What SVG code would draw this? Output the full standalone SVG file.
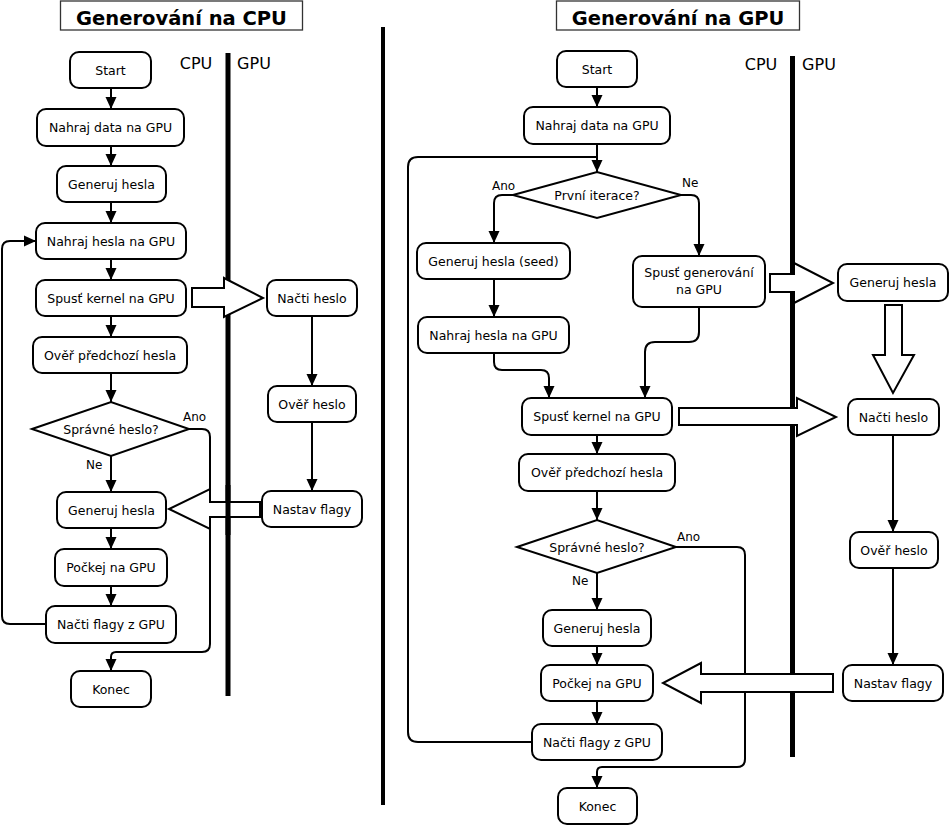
<svg xmlns="http://www.w3.org/2000/svg" width="950" height="826" viewBox="0 0 950 826">
<style>
.n rect,.n polygon{fill:#fff;stroke:#000;stroke-width:2}
.t{font-family:"DejaVu Sans","Liberation Sans",sans-serif;font-size:12.5px;text-anchor:middle;fill:#000}
.lb{font-family:"DejaVu Sans","Liberation Sans",sans-serif;font-size:12px;fill:#000}
.lane{font-family:"DejaVu Sans","Liberation Sans",sans-serif;font-size:16px;fill:#000;text-anchor:middle}
.ttl{font-family:"DejaVu Sans","Liberation Sans",sans-serif;font-size:19.5px;font-weight:bold;text-anchor:middle;fill:#000}
.c path{fill:none;stroke:#000;stroke-width:2}
.big{fill:#fff;stroke:#000;stroke-width:2;stroke-linejoin:miter}
.sep{stroke:#000;stroke-width:5}
</style>
<defs>
<marker id="ah" viewBox="0 0 12 12" refX="12" refY="6" markerWidth="12" markerHeight="12" markerUnits="userSpaceOnUse" orient="auto">
<path d="M0,0.5 L12,6 L0,11.5 z" fill="#000"/>
</marker>
</defs>
<rect width="950" height="826" fill="#fff"/>

<!-- titles -->
<g id="title-cpu"><rect x="60.5" y="1" width="242" height="29" fill="#fff" stroke="#333" stroke-width="1.3"/><text class="ttl" x="181.5" y="25">Generování na CPU</text></g>
<g id="title-gpu"><rect x="556.5" y="1" width="243" height="29" fill="#fff" stroke="#333" stroke-width="1.3"/><text class="ttl" x="678" y="25">Generování na GPU</text></g>

<!-- lane separators -->
<g id="lanes">
<line class="sep" x1="228" y1="53" x2="228" y2="696"/>
<line class="sep" x1="792.5" y1="56" x2="792.5" y2="757"/>
<line x1="383" y1="27" x2="383" y2="805" stroke="#000" stroke-width="4"/>
<text class="lane" x="196" y="69">CPU</text><text class="lane" x="254" y="69">GPU</text>
<text class="lane" x="761" y="70">CPU</text><text class="lane" x="819" y="70">GPU</text>
</g>

<!-- connectors -->
<g id="connectors" class="c">
<path d="M111,88 V109" marker-end="url(#ah)"/>
<path d="M111,146 V166" marker-end="url(#ah)"/>
<path d="M111,202 V223" marker-end="url(#ah)"/>
<path d="M111,259 V280" marker-end="url(#ah)"/>
<path d="M111,316 V337" marker-end="url(#ah)"/>
<path d="M111,373 V402" marker-end="url(#ah)"/>
<path d="M111,456 V492" marker-end="url(#ah)"/>
<path d="M111,528 V549" marker-end="url(#ah)"/>
<path d="M111,586 V606" marker-end="url(#ah)"/>
<path d="M46,624 H10 Q2,624 2,616 V249 Q2,241 10,241 H36" marker-end="url(#ah)"/>
<path d="M189,429 H202 Q210,429 210,437 V644 Q210,652 202,652 H116 Q111,652 111,657 V671" marker-end="url(#ah)"/>
<path d="M312,316 V386" marker-end="url(#ah)"/>
<path d="M312,422 V491" marker-end="url(#ah)"/>

<path d="M597,87 V107" marker-end="url(#ah)"/>
<path d="M597,144 V172" marker-end="url(#ah)"/>
<path d="M532,742 H418 Q408,742 408,732 V167 Q408,157 418,157 H597"/>
<path d="M513,195 H502 Q494,195 494,203 V243" marker-end="url(#ah)"/>
<path d="M681,195 H691 Q699,195 699,203 V256" marker-end="url(#ah)"/>
<path d="M494,279 V317" marker-end="url(#ah)"/>
<path d="M494,353 V362 Q494,370 502,370 H541 Q549,370 549,378 V398" marker-end="url(#ah)"/>
<path d="M699,307 V332 Q699,342 689,342 H655 Q645,342 645,352 V398" marker-end="url(#ah)"/>
<path d="M597,435 V454" marker-end="url(#ah)"/>
<path d="M597,491 V520" marker-end="url(#ah)"/>
<path d="M597,573 V610" marker-end="url(#ah)"/>
<path d="M597,646 V665" marker-end="url(#ah)"/>
<path d="M597,701 V724" marker-end="url(#ah)"/>
<path d="M676,547 H737 Q745,547 745,555 V759 Q745,767 737,767 H602 Q597,767 597,772 V788" marker-end="url(#ah)"/>
<path d="M893,435 V532" marker-end="url(#ah)"/>
<path d="M893,568 V665" marker-end="url(#ah)"/>

<text class="lb" x="183" y="421">Ano</text>
<text class="lb" x="86" y="469">Ne</text>
<text class="lb" x="492" y="190">Ano</text>
<text class="lb" x="682" y="187">Ne</text>
<text class="lb" x="677" y="541">Ano</text>
<text class="lb" x="572" y="585">Ne</text>
</g>

<!-- big hollow arrows -->
<g id="flow-arrows">
<polygon class="big" points="260,502 210,502 210,489 169,509 210,529 210,517 260,517"/>
<line class="sep" x1="228" y1="485" x2="228" y2="535"/>
<polygon class="big" points="192,288 224,288 224,278 263,298 224,317 224,307 192,307"/>
<polygon class="big" points="770,274 794,274 794,263 833,283 794,303 794,292 770,292"/>
<polygon class="big" points="679,408 797,408 797,398 836,417 797,436 797,425 679,425"/>
<polygon class="big" points="885,305 902,305 902,355 914,355 893,393 873,355 885,355"/>
<polygon class="big" points="833,674 701,674 701,663 663,683 701,703 701,692 833,692"/>
</g>

<!-- left nodes -->
<g id="l-start" class="n"><rect x="70" y="52" width="81" height="36" rx="9"/><text class="t" x="110.5" y="74.5">Start</text></g>
<g id="l-upload-data" class="n"><rect x="37" y="109" width="147" height="37" rx="9"/><text class="t" x="110.5" y="132">Nahraj data na GPU</text></g>
<g id="l-gen" class="n"><rect x="57" y="166" width="109" height="36" rx="9"/><text class="t" x="111.5" y="188.5">Generuj hesla</text></g>
<g id="l-upload-pw" class="n"><rect x="36" y="223" width="150" height="36" rx="9"/><text class="t" x="111" y="245.5">Nahraj hesla na GPU</text></g>
<g id="l-kernel" class="n"><rect x="36" y="280" width="150" height="36" rx="9"/><text class="t" x="111" y="302.5">Spusť kernel na GPU</text></g>
<g id="l-verify" class="n"><rect x="33" y="337" width="154" height="36" rx="9"/><text class="t" x="110" y="359.5">Ověř předchozí hesla</text></g>
<g id="l-dec" class="n"><polygon points="32,429 111,402 189,429 111,456"/><text class="t" x="111" y="433.5">Správné heslo?</text></g>
<g id="l-gen2" class="n"><rect x="57" y="492" width="109" height="36" rx="9"/><text class="t" x="111.5" y="514.5">Generuj hesla</text></g>
<g id="l-wait" class="n"><rect x="55" y="549" width="112" height="37" rx="9"/><text class="t" x="111" y="572">Počkej na GPU</text></g>
<g id="l-flags" class="n"><rect x="46" y="606" width="130" height="37" rx="9"/><text class="t" x="111" y="629">Načti flagy z GPU</text></g>
<g id="l-end" class="n"><rect x="71" y="671" width="80" height="36" rx="9"/><text class="t" x="111" y="693.5">Konec</text></g>
<g id="l-gpu-read" class="n"><rect x="267" y="280" width="90" height="36" rx="9"/><text class="t" x="312" y="302.5">Načti heslo</text></g>
<g id="l-gpu-check" class="n"><rect x="268" y="386" width="88" height="36" rx="9"/><text class="t" x="312" y="408.5">Ověř heslo</text></g>
<g id="l-gpu-set" class="n"><rect x="262" y="491" width="100" height="36" rx="9"/><text class="t" x="312" y="513.5">Nastav flagy</text></g>

<!-- right nodes -->
<g id="r-start" class="n"><rect x="557" y="51" width="80" height="36" rx="9"/><text class="t" x="597" y="73.5">Start</text></g>
<g id="r-upload-data" class="n"><rect x="524" y="107" width="146" height="37" rx="9"/><text class="t" x="597" y="130">Nahraj data na GPU</text></g>
<g id="r-dec1" class="n"><polygon points="513,195 597,172 681,195 597,218"/><text class="t" x="597" y="199.5">První iterace?</text></g>
<g id="r-seed" class="n"><rect x="417" y="243" width="153" height="36" rx="9"/><text class="t" x="493.5" y="265.5">Generuj hesla (seed)</text></g>
<g id="r-spawn" class="n"><rect x="633" y="256" width="132" height="51" rx="9"/><text class="t" x="699" y="277">Spusť generování</text><text class="t" x="699" y="294">na GPU</text></g>
<g id="r-upload-pw" class="n"><rect x="418" y="317" width="151" height="36" rx="9"/><text class="t" x="493.5" y="339.5">Nahraj hesla na GPU</text></g>
<g id="r-kernel" class="n"><rect x="522" y="398" width="150" height="37" rx="9"/><text class="t" x="597" y="421">Spusť kernel na GPU</text></g>
<g id="r-verify" class="n"><rect x="519" y="454" width="156" height="37" rx="9"/><text class="t" x="597" y="477">Ověř předchozí hesla</text></g>
<g id="r-dec2" class="n"><polygon points="517,547 597,520 676,547 597,573"/><text class="t" x="597" y="551.5">Správné heslo?</text></g>
<g id="r-gen" class="n"><rect x="543" y="610" width="108" height="36" rx="9"/><text class="t" x="597" y="632.5">Generuj hesla</text></g>
<g id="r-wait" class="n"><rect x="541" y="665" width="112" height="36" rx="9"/><text class="t" x="597" y="687.5">Počkej na GPU</text></g>
<g id="r-flags" class="n"><rect x="532" y="724" width="130" height="36" rx="9"/><text class="t" x="597" y="746.5">Načti flagy z GPU</text></g>
<g id="r-end" class="n"><rect x="558" y="788" width="79" height="36" rx="9"/><text class="t" x="597.5" y="810.5">Konec</text></g>
<g id="r-gpu-gen" class="n"><rect x="838" y="264" width="110" height="37" rx="9"/><text class="t" x="893" y="287">Generuj hesla</text></g>
<g id="r-gpu-read" class="n"><rect x="848" y="399" width="91" height="36" rx="9"/><text class="t" x="893.5" y="421.5">Načti heslo</text></g>
<g id="r-gpu-check" class="n"><rect x="850" y="532" width="88" height="36" rx="9"/><text class="t" x="894" y="554.5">Ověř heslo</text></g>
<g id="r-gpu-set" class="n"><rect x="843" y="665" width="100" height="36" rx="9"/><text class="t" x="893" y="687.5">Nastav flagy</text></g>
</svg>
